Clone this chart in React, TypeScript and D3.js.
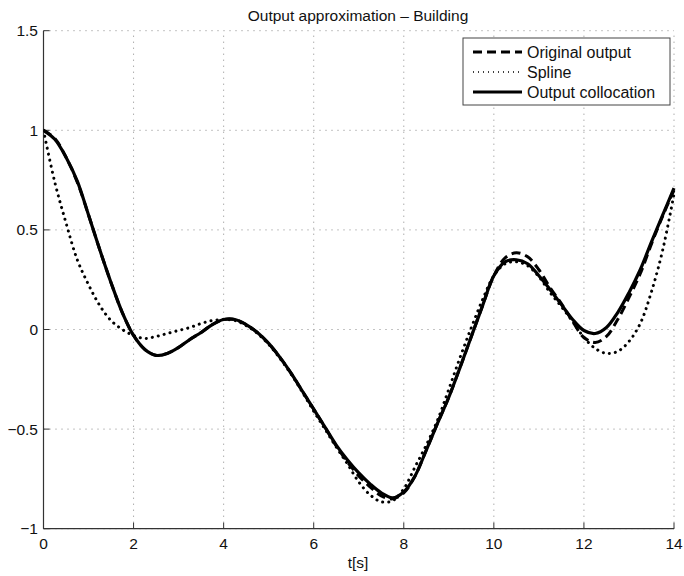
import * as d3 from 'd3';
import React from 'react';

// sample times, step 0.25 s
const times = d3.range(0, 14.001, 0.25);

const originalOutput = [
  1.0, 0.96, 0.865, 0.74, 0.575, 0.4, 0.235, 0.085,
  -0.03, -0.1, -0.13, -0.12, -0.09, -0.05, -0.015, 0.025,
  0.05, 0.05, 0.025, -0.015, -0.07, -0.14, -0.22, -0.31,
  -0.4, -0.49, -0.585, -0.665, -0.735, -0.79, -0.835, -0.85,
  -0.82, -0.735, -0.605, -0.47, -0.34, -0.19, -0.035, 0.12,
  0.27, 0.36, 0.385, 0.365, 0.3, 0.21, 0.13, 0.04,
  -0.04, -0.065, -0.035, 0.05, 0.16, 0.28, 0.43, 0.57,
  0.7,
];

const spline = [
  1.0, 0.74, 0.535, 0.35, 0.225, 0.12, 0.045, 0.0,
  -0.03, -0.045, -0.035, -0.02, -0.005, 0.01, 0.03, 0.045,
  0.05, 0.045, 0.02, -0.02, -0.075, -0.145, -0.225, -0.315,
  -0.41, -0.5, -0.59, -0.675, -0.765, -0.83, -0.865, -0.86,
  -0.8, -0.69, -0.58, -0.455, -0.3, -0.14, 0.01, 0.15,
  0.27, 0.33, 0.34, 0.32, 0.265, 0.185, 0.115, 0.04,
  -0.04, -0.095, -0.12, -0.11, -0.06, 0.03, 0.19, 0.4,
  0.68,
];

const outputCollocation = [
  1.0, 0.955, 0.865, 0.745, 0.575, 0.4, 0.235, 0.085,
  -0.03, -0.1, -0.13, -0.12, -0.09, -0.05, -0.015, 0.025,
  0.05, 0.05, 0.025, -0.015, -0.07, -0.14, -0.22, -0.31,
  -0.4, -0.49, -0.58, -0.655, -0.72, -0.775, -0.82, -0.845,
  -0.815, -0.735, -0.605, -0.47, -0.34, -0.19, -0.035, 0.12,
  0.27, 0.34, 0.35, 0.33, 0.27, 0.2, 0.125, 0.05,
  -0.005, -0.02, 0.01, 0.085, 0.185, 0.3, 0.44, 0.575,
  0.71,
];

const xTicks = [0, 2, 4, 6, 8, 10, 12, 14];
const yTicks = [-1, -0.5, 0, 0.5, 1, 1.5];
const legendLabels = ['Original output', 'Spline', 'Output collocation'];

const W = 684;
const H = 576;
const font = '"Liberation Sans", Arial, Helvetica, sans-serif';

export default function App() {
  const x = d3.scaleLinear().domain([0, 14]).range([43.5, 674]);
  const y = d3.scaleLinear().domain([-1, 1.5]).range([528.7, 30.7]);

  const line = (vals: number[]) =>
    d3.line<number>()
      .x((_, i) => x(times[i]))
      .y(d => y(d))
      .curve(d3.curveCatmullRom.alpha(0.5))(vals) || '';

  const styles = [
    { dash: '9,5', width: 3, cap: 'butt' as const },
    { dash: '0.1,6', width: 3, cap: 'round' as const },
    { dash: undefined, width: 3.2, cap: 'butt' as const },
  ];
  const series = [originalOutput, spline, outputCollocation];

  const [x0, x1] = x.range();
  const [y0, y1] = y.range();

  return (
    <svg width={W} height={H} style={{ position: 'absolute', left: 0, top: 0, background: '#fff' }}
      fontFamily={font}>
      <defs>
        <clipPath id="plot">
          <rect x={x0} y={y1 - 2} width={x1 - x0 + 2} height={y0 - y1 + 2} />
        </clipPath>
      </defs>

      {/* grid */}
      {xTicks.map(t => (
        <line key={'gx' + t} x1={x(t)} x2={x(t)} y1={y0} y2={y1}
          stroke="#888" strokeWidth={1} strokeDasharray="1,5" />
      ))}
      {yTicks.map(t => (
        <line key={'gy' + t} x1={x0} x2={x1} y1={y(t)} y2={y(t)}
          stroke="#888" strokeWidth={1} strokeDasharray="1,5" />
      ))}

      {/* ticks */}
      {xTicks.map(t => (
        <line key={'tx' + t} x1={x(t)} x2={x(t)} y1={y0} y2={y0 - 6} stroke="#333" />
      ))}
      {yTicks.map(t => (
        <line key={'ty' + t} x1={x0} x2={x0 + 6} y1={y(t)} y2={y(t)} stroke="#333" />
      ))}

      {/* axes */}
      <line x1={x0} x2={x0} y1={y0} y2={y1} stroke="#333" strokeWidth={1.2} />
      <line x1={x0} x2={x1} y1={y0} y2={y0} stroke="#333" strokeWidth={1.2} />

      {/* curves */}
      <g clipPath="url(#plot)">
        {series.map((s, i) => (
          <path key={i} d={line(s)} fill="none" stroke="#000"
            strokeWidth={styles[i].width} strokeDasharray={styles[i].dash}
            strokeLinecap={styles[i].cap} strokeLinejoin="round" />
        ))}
      </g>

      {/* tick labels */}
      {xTicks.map(t => (
        <text key={'lx' + t} x={x(t)} y={549} textAnchor="middle" fontSize={15.5} fill="#111">{t}</text>
      ))}
      {yTicks.map(t => (
        <text key={'ly' + t} x={38} y={y(t) + 5.5} textAnchor="end" fontSize={15.5} fill="#111">
          {t < 0 ? '\u2212' + Math.abs(t) : String(t)}
        </text>
      ))}

      {/* title and axis label */}
      <text x={358} y={21} textAnchor="middle" fontSize={15.5} fill="#111">Output approximation – Building</text>
      <text x={358} y={568} textAnchor="middle" fontSize={15.5} fill="#111">t[s]</text>

      {/* legend */}
      <g>
        <rect x={463} y={38} width={207} height={67} fill="#fff" stroke="#444" strokeWidth={1} />
        {legendLabels.map((lab, i) => {
          const ly = 52 + i * 20;
          return (
            <g key={lab}>
              <line x1={473} x2={522} y1={ly} y2={ly} stroke="#000"
                strokeWidth={i === 1 ? 1.5 : 3} strokeDasharray={i === 0 ? '9,5' : i === 1 ? '1,4' : undefined} />
              <text x={527} y={ly + 5.5} fontSize={16} fill="#111">{lab}</text>
            </g>
          );
        })}
      </g>
    </svg>
  );
}
